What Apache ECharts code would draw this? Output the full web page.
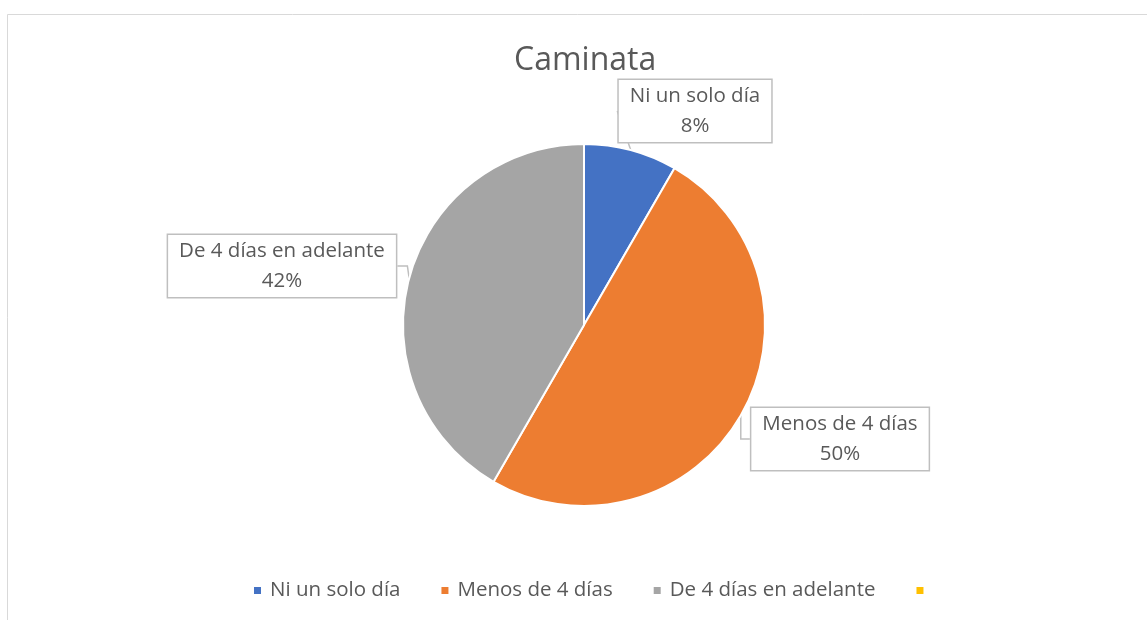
<!DOCTYPE html>
<html><head><meta charset="utf-8">
<script src="https://cdn.jsdelivr.net/npm/echarts@6/dist/echarts.min.js"></script>
<style>html,body{margin:0;padding:0;background:#fff}#c{width:1147px;height:620px}</style>
</head><body><div id="c"></div>
<script>
const categories = ['Ni un solo día', 'Menos de 4 días', 'De 4 días en adelante', ' '];
const values = [8.33, 50, 41.67, 0];
const colors = ['#4472C4', '#ED7D31', '#A5A5A5', '#FFC000'];
const title = 'Caminata';

const labelPos = [[695, 111], [840, 439], [282, 266]];
const FONT = '"Open Sans", "Noto Sans", sans-serif';

const chart = echarts.init(document.getElementById('c'));
chart.setOption({
  animation: false,
  backgroundColor: '#fff',
  title: {
    text: title, left: 509, top: 40,
    textStyle: { fontFamily: FONT, fontSize: 32, fontWeight: 'normal', color: '#595959' }
  },
  graphic: [{
    type: 'polyline', silent: true,
    shape: { points: [[7.5, 640], [7.5, 14.5], [1160, 14.5]] },
    style: { stroke: '#d9d9d9', lineWidth: 1, fill: null }
  }],
  legend: {
    bottom: 14, left: 247, itemWidth: 9, itemHeight: 9, itemGap: 39,
    icon: 'rect',
    textStyle: { fontFamily: FONT, fontSize: 20.5, color: '#595959', padding: [0, 0, 0, 3] },
    data: categories
  },
  series: [{
    type: 'pie',
    center: [584, 325], radius: 181,
    startAngle: 90, clockwise: true,
    itemStyle: { borderColor: '#fff', borderWidth: 2 },
    label: {
      show: true, position: 'outside',
      formatter: p => p.name + '\n' + Math.round(p.percent) + '%',
      fontFamily: FONT, fontSize: 20.5, color: '#595959', lineHeight: 30,
      backgroundColor: '#fff', borderColor: '#bfbfbf', borderWidth: 1.5,
      padding: [1, 11, 1, 11], align: 'center'
    },
    labelLine: { show: true, length: 10, length2: 10, lineStyle: { color: '#bfbfbf', width: 1.5 } },
    labelLayout: function (p) {
      const pos = labelPos[p.dataIndex];
      if (!pos) return {};
      return { x: pos[0], y: pos[1], align: 'center', verticalAlign: 'middle' };
    },
    data: categories.map((n, i) => ({
      name: n, value: values[i],
      itemStyle: { color: colors[i] },
      label: { show: i < 3 }, labelLine: { show: i < 3 }
    }))
  }]
});
</script></body></html>
